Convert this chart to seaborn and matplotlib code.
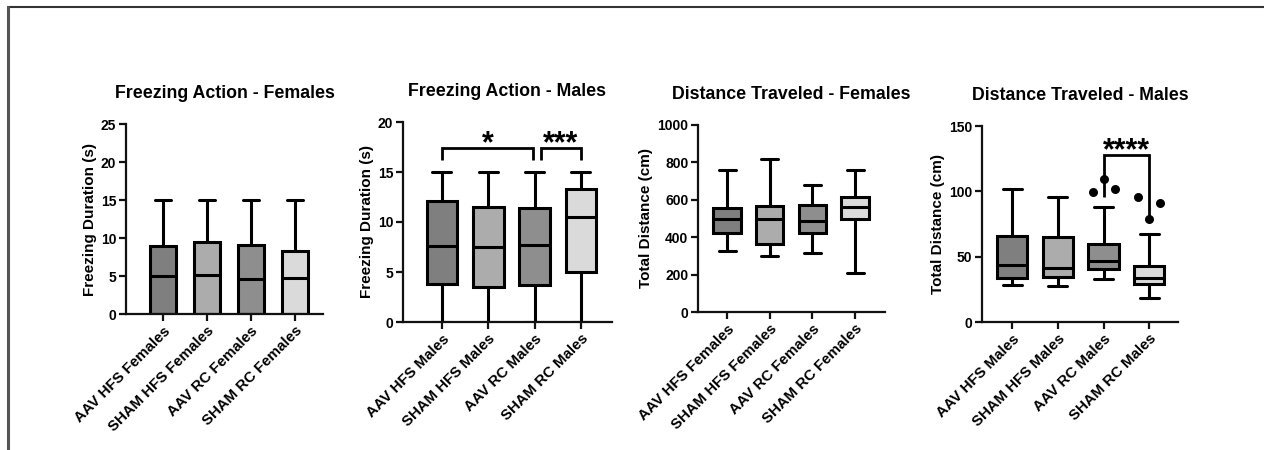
import numpy as np
import pandas as pd
import matplotlib
matplotlib.use('Agg')
import matplotlib.pyplot as plt
from matplotlib.lines import Line2D
import seaborn as sns

fem_groups = ['AAV HFS Females', 'SHAM HFS Females', 'AAV RC Females', 'SHAM RC Females']
male_groups = ['AAV HFS Males', 'SHAM HFS Males', 'AAV RC Males', 'SHAM RC Males']
box_colors = ['#7f7f7f', '#acacac', '#8e8e8e', '#dadada']

# five number summary for each group: min, q1, median, q3, max
freeze_fem = [[0, 0, 5.0, 8.9, 15],
              [0, 0, 5.1, 9.5, 15],
              [0, 0, 4.6, 9.1, 15],
              [0, 0, 4.8, 8.3, 15]]
freeze_male = [[0, 3.8, 7.6, 12.1, 15],
               [0, 3.5, 7.5, 11.5, 15],
               [0, 3.7, 7.7, 11.4, 15],
               [0, 5.0, 10.5, 13.3, 15]]
dist_fem = [[325, 420, 500, 554, 759],
            [298, 366, 496, 568, 816],
            [316, 423, 487, 571, 679],
            [211, 496, 562, 616, 759]]
dist_male = [[28.6, 33.9, 43.9, 65.6, 102],
             [27.6, 34.4, 41.6, 65.0, 95.7],
             [32.9, 40.6, 46.4, 59.7, 87.8],
             [18.6, 29.1, 33.9, 42.9, 67.3]]

# points drawn outside the whiskers (distance, males)
outlier_groups = ['AAV RC Males', 'AAV RC Males', 'AAV RC Males',
                  'SHAM RC Males', 'SHAM RC Males', 'SHAM RC Males']
outlier_values = [99.5, 109.7, 101.8, 95.4, 78.8, 91.3]
outlier_dx = [-0.24, 0.0, 0.25, -0.25, 0.0, 0.23]

sns.set_style('white')
plt.rcParams['font.family'] = ['Liberation Sans', 'DejaVu Sans']
plt.rcParams['font.weight'] = 'bold'
plt.rcParams['axes.labelweight'] = 'bold'
plt.rcParams['axes.titleweight'] = 'bold'
plt.rcParams['text.color'] = 'black'
plt.rcParams['axes.labelcolor'] = 'black'
plt.rcParams['xtick.color'] = 'black'
plt.rcParams['ytick.color'] = 'black'

W, H = 1264, 450
fig = plt.figure(figsize=(W / 100, H / 100), dpi=100)


def box_panel(rect, groups, summ, title, ylabel, yticks, xlim, width):
    l, t, r, b = rect
    ax = fig.add_axes([l / W, 1 - b / H, (r - l) / W, (b - t) / H])
    df = pd.DataFrame({'group': np.repeat(groups, 5),
                       'value': np.concatenate(summ)})
    sns.boxplot(data=df, x='group', y='value', hue='group', palette=box_colors,
                order=groups, hue_order=groups, legend=False, saturation=1,
                whis=(0, 100), width=width, linecolor='black', linewidth=2.2,
                showfliers=False, capwidths=width * 0.62, ax=ax)
    ax.set_xlim(*xlim)
    ax.set_ylim(yticks[0], yticks[-1])
    ax.set_yticks(yticks)
    ax.set_xlabel('')
    ax.set_ylabel(ylabel, fontsize=11, color='black', labelpad=3)
    ax.set_title(title, fontsize=12.8, pad=19, color='black')
    sns.despine(ax=ax)
    for s in ['left', 'bottom']:
        ax.spines[s].set_linewidth(1.6)
        ax.spines[s].set_color('#111111')
    ax.tick_params(axis='both', direction='out', length=5, width=1.6,
                   color='#111111', labelcolor='black', labelsize=10,
                   bottom=True, left=True, pad=2)
    ax.tick_params(axis='x', labelsize=10.8)
    plt.setp(ax.get_xticklabels(), rotation=45, ha='right',
             rotation_mode='anchor', fontweight='bold')
    plt.setp(ax.get_yticklabels(), fontweight='bold')
    return ax


def bracket(ax, x1, x2, y, y1, y2, label):
    ax.plot([x1, x1, x2, x2], [y1, y, y, y2], color='black', lw=2, zorder=5,
            solid_capstyle='butt', solid_joinstyle='miter')
    ax.annotate(label, xy=((x1 + x2) / 2, y), xytext=(0, -3),
                textcoords='offset points', ha='center', va='baseline',
                fontsize=22, fontweight='bold', color='black')


ax1 = box_panel((126, 124, 323, 314), fem_groups, freeze_fem,
                'Freezing Action - Females', 'Freezing Duration (s)',
                [0, 5, 10, 15, 20, 25], (-0.84, 3.64), 0.6)

ax2 = box_panel((403, 122, 612, 322), male_groups, freeze_male,
                'Freezing Action - Males', 'Freezing Duration (s)',
                [0, 5, 10, 15, 20], (-0.84, 3.67), 0.66)
bracket(ax2, 0, 1.96, 17.4, 16.2, 16.2, '*')
bracket(ax2, 2.14, 3, 17.4, 16.2, 16.2, '***')

ax3 = box_panel((698, 125, 885, 312), fem_groups, dist_fem,
                'Distance Traveled - Females', 'Total Distance (cm)',
                [0, 200, 400, 600, 800, 1000], (-0.68, 3.70), 0.64)

ax4 = box_panel((982, 126, 1178, 322), male_groups, dist_male,
                'Distance Traveled - Males', 'Total Distance (cm)',
                [0, 50, 100, 150], (-0.66, 3.63), 0.66)
bracket(ax4, 2, 3, 127.6, 95.7, 80, '****')
ox = [male_groups.index(g) + d for g, d in zip(outlier_groups, outlier_dx)]
sns.scatterplot(x=ox, y=outlier_values, color='black', s=42, linewidth=0,
                zorder=6, ax=ax4, legend=False)
ax4.set_xlim(-0.66, 3.63)

# frame lines of the original figure
fig.add_artist(Line2D([7.5 / W, 1], [1 - 6.5 / H, 1 - 6.5 / H],
                      transform=fig.transFigure, color='#333333', lw=1.5))
fig.add_artist(Line2D([7.5 / W, 7.5 / W], [0, 1 - 6.5 / H],
                      transform=fig.transFigure, color='#555555', lw=2.2))

fig.savefig('out.png', dpi=100)
